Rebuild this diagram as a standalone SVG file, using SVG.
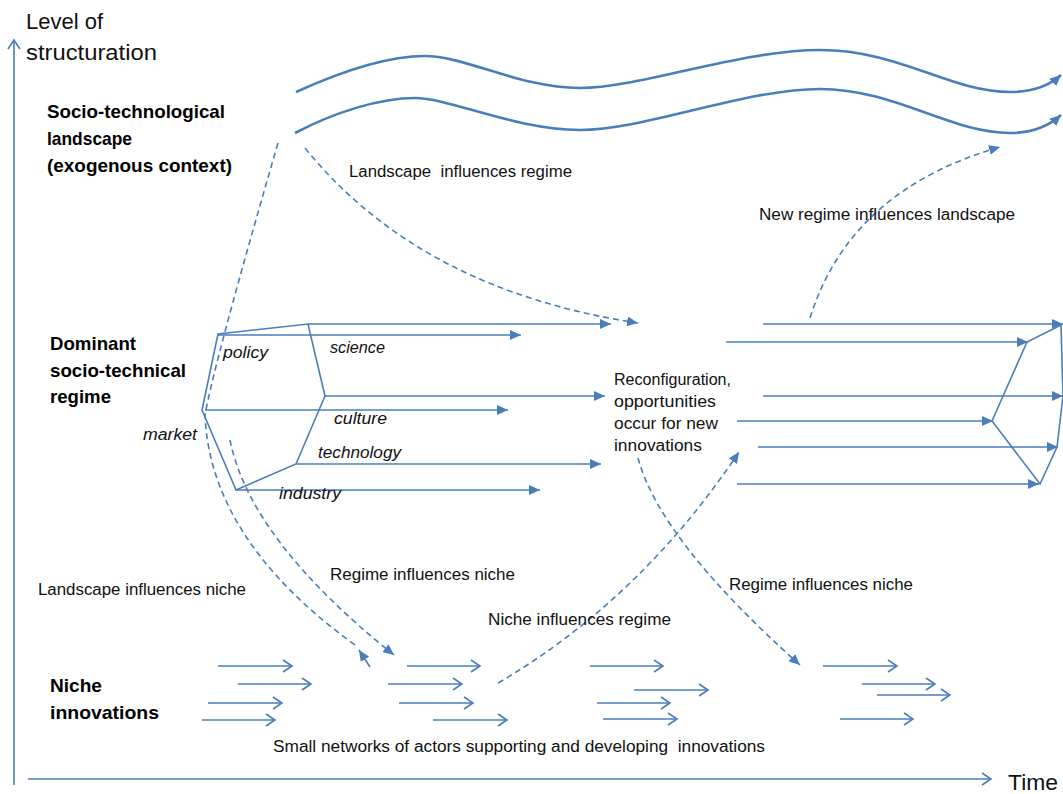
<svg xmlns="http://www.w3.org/2000/svg" width="1063" height="794" viewBox="0 0 1063 794">
<style>
text{font-family:"Liberation Sans",Arial,sans-serif;fill:#111;white-space:pre}
.ax{font-size:22px}
.hd{font-size:19px;font-weight:bold;fill:#000}
.lb{font-size:16px}
.it{font-size:16px;font-style:italic}
.ln{fill:none;stroke:#4a7ebb;stroke-width:1.6}
.wv{fill:none;stroke:#4a7ebb;stroke-width:2.6}
.ds{fill:none;stroke:#4a7ebb;stroke-width:1.6;stroke-dasharray:6 4}
.ar{marker-end:url(#tri)}
.op{marker-end:url(#chev)}
</style>
<defs>
<marker id="tri" markerUnits="userSpaceOnUse" markerWidth="12" markerHeight="10" refX="11" refY="5" orient="auto"><path d="M0,0 L11,5 L0,10 z" fill="#4a7ebb"/></marker>
<marker id="chev" markerUnits="userSpaceOnUse" markerWidth="12" markerHeight="14" refX="10" refY="7" orient="auto"><path d="M1,1 L10,7 L1,13" fill="none" stroke="#4a7ebb" stroke-width="1.6"/></marker>
</defs>
<rect width="1063" height="794" fill="#fff"/>

<g id="axes">
<path class="ln op" d="M14,785 L14,40"/>
<path class="ln op" d="M28,779 L991,779"/>
<text class="ax" x="26" y="29" textLength="77" lengthAdjust="spacingAndGlyphs">Level of</text>
<text class="ax" x="26" y="60" textLength="131" lengthAdjust="spacingAndGlyphs">structuration</text>
<text class="ax" x="1008" y="790" textLength="50" lengthAdjust="spacingAndGlyphs">Time</text>
</g>

<g id="landscape">
<text class="hd" x="47" y="118" textLength="178" lengthAdjust="spacingAndGlyphs">Socio-technological</text>
<text class="hd" x="47" y="145" textLength="85" lengthAdjust="spacingAndGlyphs">landscape</text>
<text class="hd" x="47" y="172" textLength="185" lengthAdjust="spacingAndGlyphs">(exogenous context)</text>
<path class="wv ar" d="M296,92 C340,72 385,56 425,56 S520,88 580,88 S740,50 820,50 S950,92 1010,92 C1035,92 1050,85 1061,75"/>
<path class="wv ar" d="M295,133 C335,112 380,98 415,98 S515,130 580,130 S745,89 820,89 S950,133 1010,133 C1035,133 1050,125 1061,115"/>
</g>

<g id="regime">
<text class="hd" x="50" y="350" textLength="86" lengthAdjust="spacingAndGlyphs">Dominant</text>
<text class="hd" x="50" y="377" textLength="136" lengthAdjust="spacingAndGlyphs">socio-technical</text>
<text class="hd" x="50" y="403" textLength="61" lengthAdjust="spacingAndGlyphs">regime</text>
<path class="ln" d="M202,410 L218,334 L308,324 L325,396 L296,464 L236,490 Z"/>
<path class="ln ar" d="M308,324 L611,324"/>
<path class="ln ar" d="M218,335 L521,335"/>
<path class="ln ar" d="M325,396 L605,396"/>
<path class="ln ar" d="M205,410 L508,410"/>
<path class="ln ar" d="M296,464 L601,464"/>
<path class="ln ar" d="M236,490 L540,490"/>
<text class="it" x="223" y="358" textLength="45" lengthAdjust="spacingAndGlyphs">policy</text>
<text class="it" x="330" y="353" textLength="55" lengthAdjust="spacingAndGlyphs">science</text>
<text class="it" x="334" y="424" textLength="53" lengthAdjust="spacingAndGlyphs">culture</text>
<text class="it" x="318" y="458" textLength="83" lengthAdjust="spacingAndGlyphs">technology</text>
<text class="it" x="279" y="499" textLength="62" lengthAdjust="spacingAndGlyphs">industry</text>
<text class="it" x="143" y="440" textLength="54" lengthAdjust="spacingAndGlyphs">market</text>
</g>

<g id="reconfiguration">
<text class="lb" x="614" y="385" textLength="117" lengthAdjust="spacingAndGlyphs">Reconfiguration,</text>
<text class="lb" x="614" y="407" textLength="102" lengthAdjust="spacingAndGlyphs">opportunities</text>
<text class="lb" x="614" y="429" textLength="104" lengthAdjust="spacingAndGlyphs">occur for new</text>
<text class="lb" x="614" y="451" textLength="88" lengthAdjust="spacingAndGlyphs">innovations</text>
</g>

<g id="new-regime">
<path class="ln ar" d="M763,324 L1063,324"/>
<path class="ln ar" d="M726,342 L1028,342"/>
<path class="ln ar" d="M763,396 L1063,396"/>
<path class="ln ar" d="M737,421 L993,421"/>
<path class="ln ar" d="M758,447 L1058,447"/>
<path class="ln ar" d="M737,484 L1039,484"/>
<path class="ln" d="M992,421 L1027,342 L1061,325 L1063,396 L1057,447 L1040,484 Z"/>
</g>

<g id="niche">
<text class="hd" x="50" y="692" textLength="52" lengthAdjust="spacingAndGlyphs">Niche</text>
<text class="hd" x="50" y="719" textLength="109" lengthAdjust="spacingAndGlyphs">innovations</text>
<path class="ln op" d="M218,666 L292,666"/>
<path class="ln op" d="M238,684 L311,684"/>
<path class="ln op" d="M208,703 L282,703"/>
<path class="ln op" d="M202,720 L275,720"/>
<path class="ln op" d="M407,666 L480,666"/>
<path class="ln op" d="M388,684 L462,684"/>
<path class="ln op" d="M399,703 L473,703"/>
<path class="ln op" d="M433,720 L507,720"/>
<path class="ln op" d="M590,666 L663,666"/>
<path class="ln op" d="M634,690 L708,690"/>
<path class="ln op" d="M597,703 L670,703"/>
<path class="ln op" d="M603,719 L677,719"/>
<path class="ln op" d="M823,666 L897,666"/>
<path class="ln op" d="M862,684 L935,684"/>
<path class="ln op" d="M877,695 L950,695"/>
<path class="ln op" d="M840,719 L913,719"/>
<text class="lb" x="273" y="752" textLength="492" lengthAdjust="spacingAndGlyphs">Small networks of actors supporting and developing  innovations</text>
</g>

<g id="connectors">
<path class="ds ar" d="M305,148 Q420,290 638,323"/>
<path class="ds ar" d="M810,318 Q850,190 1000,147"/>
<path class="ds" d="M278,143 Q215,360 205,415 Q210,540 355,645"/>
<path class="ln ar" d="M370,667 L359,650"/>
<path class="ds ar" d="M230,440 Q250,540 394,655"/>
<path class="ds ar" d="M498,683 Q640,600 739,452"/>
<path class="ds ar" d="M638,458 Q660,540 800,665"/>
<text class="lb" x="349" y="177" textLength="223" lengthAdjust="spacingAndGlyphs">Landscape  influences regime</text>
<text class="lb" x="759" y="220" textLength="256" lengthAdjust="spacingAndGlyphs">New regime influences landscape</text>
<text class="lb" x="330" y="580" textLength="185" lengthAdjust="spacingAndGlyphs">Regime influences niche</text>
<text class="lb" x="38" y="595" textLength="208" lengthAdjust="spacingAndGlyphs">Landscape influences niche</text>
<text class="lb" x="488" y="625" textLength="183" lengthAdjust="spacingAndGlyphs">Niche influences regime</text>
<text class="lb" x="729" y="590" textLength="184" lengthAdjust="spacingAndGlyphs">Regime influences niche</text>
</g>
</svg>
